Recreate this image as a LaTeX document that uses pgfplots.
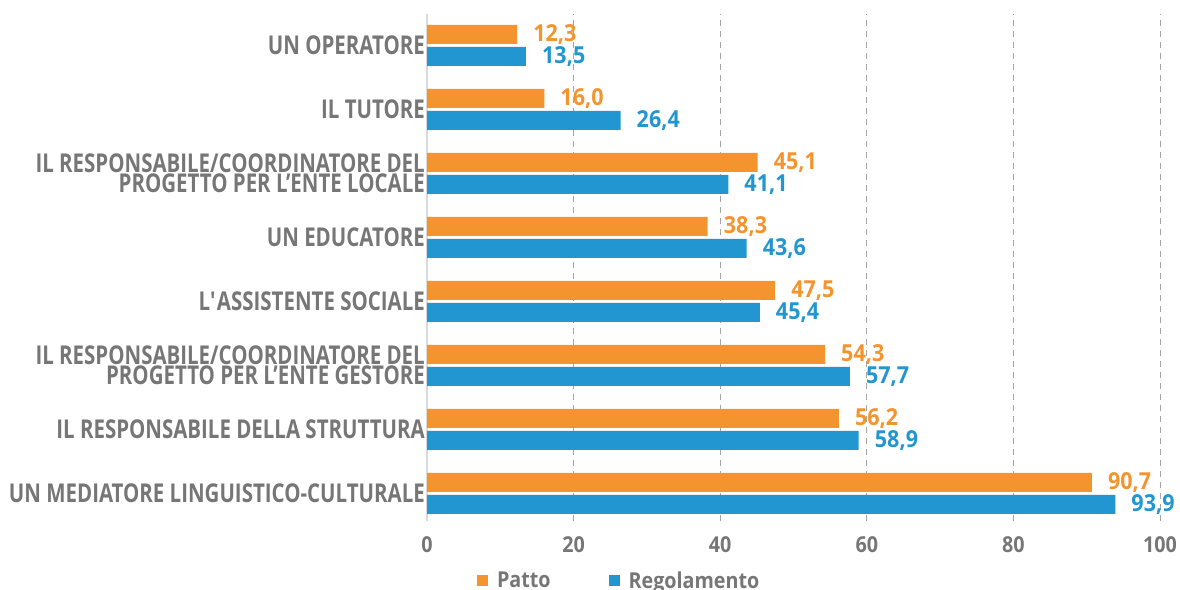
\documentclass[border=0pt]{standalone}
\usepackage{fontspec}
\setmainfont{Open Sans}[FakeStretch=0.79]
\newfontfamily\numfont{Open Sans}[FakeStretch=0.92]
\newfontfamily\legfont{Open Sans}[FakeStretch=0.9]
\usepackage{pgfplots}
\pgfplotsset{compat=1.18}
\definecolor{patto}{RGB}{244,148,46}
\definecolor{regol}{RGB}{34,150,208}
\definecolor{txt}{RGB}{118,118,118}
\definecolor{gridc}{RGB}{165,165,165}
\definecolor{axc}{RGB}{217,217,217}
\pgfplotsset{
  sqlegend/.style={legend image code/.code={\fill[##1] (0bp,-5.5bp) rectangle (11bp,5.5bp);}}
}
\begin{document}
\begin{tikzpicture}
\begin{axis}[
  at={(427bp,69bp)}, anchor=south west,
  scale only axis, width=733bp, height=507bp,
  xbar, bar width=19bp,
  xmin=0, xmax=100, ymin=-0.43, ymax=7.49,
  xtick={0,20,...,100},
  ytick={0,...,7},
  yticklabels={
    UN MEDIATORE LINGUISTICO-CULTURALE,
    IL RESPONSABILE DELLA STRUTTURA,
    {IL RESPONSABILE/COORDINATORE DEL\\PROGETTO PER L’ENTE GESTORE},
    L\textquotesingle ASSISTENTE SOCIALE,
    UN EDUCATORE,
    {IL RESPONSABILE/COORDINATORE DEL\\PROGETTO PER L’ENTE LOCALE},
    IL TUTORE,
    UN OPERATORE},
  axis line style={draw=none},
  major tick length=0pt,
  xmajorgrids,
  grid style={gridc, line width=1bp, dash pattern=on 6bp off 5bp},
  extra x ticks={0},
  extra x tick labels={},
  extra x tick style={grid style={axc, solid, line width=2bp}},
  tick label style={text=txt},
  yticklabel style={font=\bfseries\fontsize{26}{19.5}\selectfont, align=right, inner sep=0pt, xshift=-2bp},
  xticklabel style={font=\legfont\bfseries\fontsize{22}{26}\selectfont, inner sep=0pt, anchor=north, yshift=-15bp},
  /pgf/number format/assume math mode=true,
  point meta=x,
  nodes near coords={\pgfmathprintnumber[fixed,fixed zerofill,precision=1,use comma]{\pgfplotspointmeta}},
  nodes near coords style={font=\numfont\bfseries\fontsize{23.5}{28}\selectfont, anchor=west, inner sep=0pt, xshift=16bp},
  legend columns=2,
  legend style={draw=none, fill=none, inner sep=0pt, at={(0.068,-0.118)}, anchor=west,
    font=\legfont\bfseries\fontsize{22}{26}\selectfont, text=txt,
    /tikz/every odd column/.style={column sep=7bp},
    /tikz/every even column/.style={column sep=56bp}},
  legend cell align=left,
]
\addplot[fill=patto, draw=none, bar shift=11bp, sqlegend,
  every node near coord/.append style={text=patto}]
  coordinates {(90.7,0) (56.2,1) (54.3,2) (47.5,3) (38.3,4) (45.1,5) (16.0,6) (12.3,7)};
\addlegendentry{Patto}
\addplot[fill=regol, draw=none, bar shift=-11bp, sqlegend,
  every node near coord/.append style={text=regol}]
  coordinates {(93.9,0) (58.9,1) (57.7,2) (45.4,3) (43.6,4) (41.1,5) (26.4,6) (13.5,7)};
\addlegendentry{Regolamento}
\end{axis}
\pgfresetboundingbox
\useasboundingbox (0,0) rectangle (1180bp,590bp);
\end{tikzpicture}
\end{document}
